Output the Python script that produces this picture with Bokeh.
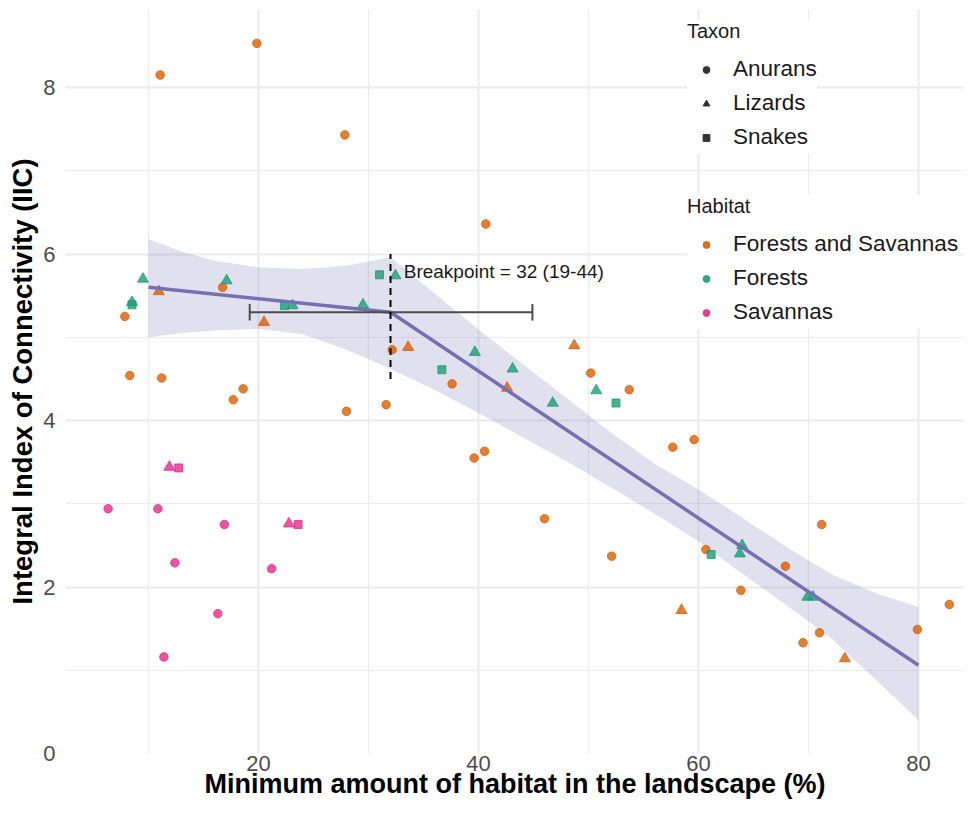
from bokeh.plotting import figure
from bokeh.models import FixedTicker, Legend, LegendItem
from bokeh.core.properties import value
from bokeh.embed import file_html
from bokeh.resources import INLINE

# ---------------- data ----------------
# Habitat: Forests and Savannas
fs_anurans_x = [19.85, 11.06, 27.85, 16.73, 7.85, 8.3, 11.2, 17.7, 18.6, 28.0, 31.6, 32.15, 37.6,
                40.67, 39.6, 40.55, 50.2, 53.7, 46.0, 52.1, 57.66, 59.6, 60.67, 63.85, 67.9,
                71.2, 69.5, 71.0, 79.9, 82.8]
fs_anurans_y = [8.53, 8.15, 7.43, 5.60, 5.25, 4.54, 4.51, 4.25, 4.38, 4.11, 4.19, 4.85, 4.44,
                6.36, 3.55, 3.63, 4.57, 4.37, 2.82, 2.37, 3.68, 3.77, 2.45, 1.96, 2.25,
                2.75, 1.33, 1.45, 1.49, 1.79]
fs_lizards_x = [10.94, 20.5, 33.6, 42.6, 48.7, 58.45, 73.3]
fs_lizards_y = [5.55, 5.18, 4.88, 4.39, 4.90, 1.72, 1.14]

# Habitat: Forests
f_lizards_x = [9.5, 17.1, 8.5, 23.1, 29.5, 32.45, 39.67, 43.1, 46.75, 50.7, 63.97, 63.76, 69.9, 70.4]
f_lizards_y = [5.70, 5.68, 5.42, 5.38, 5.39, 5.74, 4.82, 4.62, 4.21, 4.36, 2.50, 2.40, 1.88, 1.88]
f_snakes_x = [8.5, 22.36, 31.0, 36.67, 52.5, 61.15]
f_snakes_y = [5.39, 5.38, 5.75, 4.61, 4.21, 2.39]

# Habitat: Savannas
s_anurans_x = [6.33, 10.85, 16.9, 12.4, 21.2, 16.3, 11.4]
s_anurans_y = [2.94, 2.94, 2.75, 2.29, 2.22, 1.68, 1.16]
s_lizards_x = [11.9, 22.76]
s_lizards_y = [3.44, 2.76]
s_snakes_x = [12.75, 23.6]
s_snakes_y = [3.43, 2.75]

# Segmented regression fit and its confidence band
fit_x = [10, 32, 80]
fit_y = [5.60, 5.30, 1.06]
band_x = [10, 13, 16, 20, 24, 28, 30, 32, 36, 40, 44, 48, 52, 56, 60, 64, 68, 72, 76, 80]
band_upper = [6.18, 6.03, 5.92, 5.84, 5.82, 5.86, 5.91, 5.96, 5.53, 5.09, 4.68, 4.27, 3.86,
              3.48, 3.17, 2.83, 2.48, 2.16, 1.93, 1.76]
band_lower = [5.00, 5.05, 5.08, 5.10, 5.04, 4.85, 4.74, 4.62, 4.37, 4.09, 3.80, 3.51, 3.20,
              2.88, 2.55, 2.16, 1.78, 1.39, 0.90, 0.40]

# Breakpoint estimate and interval
bp = 32
bp_lo = 19.2
bp_hi = 44.9
bp_y = 5.30
bp_label = "Breakpoint = 32 (19-44)"

x_ticks = [20, 40, 60, 80]
x_minor = [10, 30, 50, 70]
y_ticks = [0, 2, 4, 6, 8]
y_minor = [1, 3, 5, 7]

taxa = ["Anurans", "Lizards", "Snakes"]
habitats = ["Forests and Savannas", "Forests", "Savannas"]
x_title = "Minimum amount of habitat in the landscape (%)"
y_title = "Integral Index of Connectivity (IIC)"

# ---------------- styling ----------------
FONT = "Liberation Sans"
COL_FS = "#D95F02"
COL_F = "#1B9E77"
COL_S = "#E7298A"
COL_FIT = "#7570B3"
PT_ALPHA = 0.8
GRID = "#EBEBEB"

p = figure(width=964, height=805, output_backend="svg", toolbar_location=None,
           x_range=(2.4545, 84.18), y_range=(0, 8.937), title=None,
           min_border_left=65, min_border_right=0, min_border_top=9, min_border_bottom=52)
p.outline_line_color = None
p.background_fill_color = "white"

# grid & axes
xt = FixedTicker(ticks=x_ticks, minor_ticks=x_minor)
yt = FixedTicker(ticks=y_ticks, minor_ticks=y_minor)
p.xaxis.ticker = xt
p.yaxis.ticker = yt
p.xgrid.ticker = xt
p.ygrid.ticker = yt
for g in (p.xgrid, p.ygrid):
    g.grid_line_color = GRID
    g.grid_line_width = 2
    g.minor_grid_line_color = GRID
    g.minor_grid_line_width = 1.2

for ax in (p.xaxis, p.yaxis):
    ax.axis_line_color = None
    ax.major_tick_line_color = None
    ax.minor_tick_line_color = None
    ax.major_tick_in = 0
    ax.major_tick_out = 0
    ax.minor_tick_in = 0
    ax.minor_tick_out = 0
    ax.major_label_text_font = FONT
    ax.major_label_text_font_size = "22px"
    ax.major_label_text_color = "#4D4D4D"
    ax.axis_label_text_font = FONT
    ax.axis_label_text_font_style = "bold"
    ax.axis_label_text_color = "black"

p.xaxis.major_label_standoff = 2
p.xaxis.axis_label = x_title
p.xaxis.axis_label_text_font_size = "27px"
p.xaxis.axis_label_standoff = -5

p.yaxis.major_label_standoff = 10
p.yaxis.axis_label = y_title
p.yaxis.axis_label_text_font_size = "27.5px"
p.yaxis.axis_label_standoff = 2

# confidence band
p.varea(x=band_x, y1=band_lower, y2=band_upper, fill_color=COL_FIT, fill_alpha=0.22)

# points
p.scatter(fs_anurans_x, fs_anurans_y, marker="circle", size=8.5, color=COL_FS, alpha=PT_ALPHA)
p.scatter(fs_lizards_x, fs_lizards_y, marker="triangle", size=11, color=COL_FS, alpha=PT_ALPHA)
p.scatter(f_snakes_x, f_snakes_y, marker="square", size=8, color=COL_F, alpha=PT_ALPHA)
p.scatter(f_lizards_x, f_lizards_y, marker="triangle", size=11, color=COL_F, alpha=PT_ALPHA)
p.scatter(s_anurans_x, s_anurans_y, marker="circle", size=8.5, color=COL_S, alpha=PT_ALPHA)
p.scatter(s_lizards_x, s_lizards_y, marker="triangle", size=11, color=COL_S, alpha=PT_ALPHA)
p.scatter(s_snakes_x, s_snakes_y, marker="square", size=8, color=COL_S, alpha=PT_ALPHA)

# fit line
p.line(fit_x, fit_y, line_color=COL_FIT, line_width=3.5)

# breakpoint interval (horizontal error bar)
cap = 0.1
p.segment(x0=[bp_lo], y0=[bp_y], x1=[bp_hi], y1=[bp_y], line_color="#4D4D4D", line_width=2)
p.segment(x0=[bp_lo, bp_hi], y0=[bp_y - cap, bp_y - cap], x1=[bp_lo, bp_hi],
          y1=[bp_y + cap, bp_y + cap], line_color="#4D4D4D", line_width=2)
# breakpoint dashed line
p.segment(x0=[bp], y0=[bp_y - 0.8], x1=[bp], y1=[bp_y + 0.7], line_color="black",
          line_width=2, line_dash="7 5")
p.text(x=[bp + 1.2], y=[bp_y + 0.49], text=[bp_label], text_font=value(FONT),
       text_font_size="19px", text_color="#1a1a1a", text_align="left", text_baseline="middle")

# legends (renderers with a single NaN point, shown only in the legends)
nan = float("nan")
tax_markers = ["circle", "triangle", "square"]
r_tax = [p.scatter(x=[nan], y=[nan], marker=m, color="#333333") for m in tax_markers]
hab_cols = [COL_FS, COL_F, COL_S]
r_hab = [p.scatter(x=[nan], y=[nan], marker="circle", color=c, alpha=0.9) for c in hab_cols]


def make_legend(title, labels, renderers, loc):
    lg = Legend(items=[LegendItem(label=l, renderers=[r]) for l, r in zip(labels, renderers)],
                title=title, location=loc, orientation="vertical")
    lg.title_text_font = FONT
    lg.title_text_font_size = "20px"
    lg.title_text_font_style = "normal"
    lg.title_text_color = "#1a1a1a"
    lg.title_standoff = 9
    lg.label_text_font = FONT
    lg.label_text_font_size = "22.5px"
    lg.label_text_color = "#1a1a1a"
    lg.glyph_width = 38
    lg.glyph_height = 17
    lg.label_height = 34
    lg.label_standoff = 8
    lg.spacing = 0
    lg.padding = 10
    lg.margin = 0
    lg.background_fill_color = "white"
    lg.background_fill_alpha = 1.0
    lg.border_line_color = None
    return lg


p.add_layout(make_legend("Taxon", taxa, r_tax, (622, 599)))
p.add_layout(make_legend("Habitat", habitats, r_hab, (622, 424)))

open("out.html", "w").write(file_html(p, INLINE))
